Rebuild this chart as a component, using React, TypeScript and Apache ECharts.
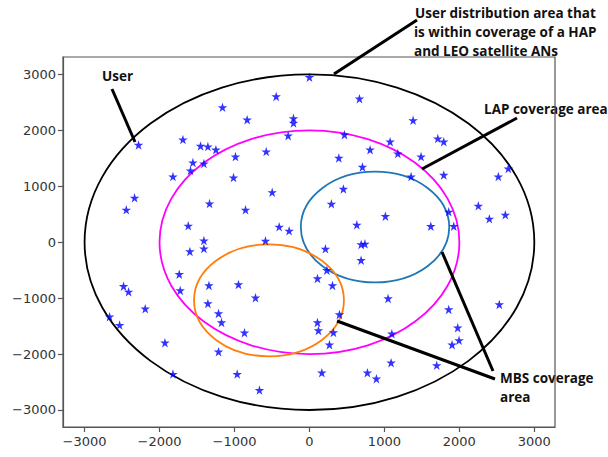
import React, { useEffect, useRef } from 'react';
import * as echarts from 'echarts';

// User positions (m)
const userX = [
  0, -444, -1160, -831, -213, -213, -284, -1688, -2280, -1453, -1355, -1248, -577, -987, -1555, -1408,
  -1587, -1821, -1013, -497, -2333, -2444, -1333, -853, -1617, -404, -271, -1408, -587, -1595, -1408,
  -1737, -2480, -2413, -1724, -1341, -947, -720, -1355, -2191, -1213, -1173, -2667, -2533, -867, -1928,
  -1213, -1821, -964, -667, 213, 690, 740, 689, 232, 107, 307, 1049, 1858, 2533, 400, 107, 120, 320,
  1099, 1978, 1996, 1903, 267, 1089, 1698, 165, 773, 893, 667, 1383, 467, 1076, 1712, 1792, 809, 1179,
  1489, 392, 707, 1356, 1792, 2653, 2520, 453, 293, 2253, 2613, 2400, 1858, 1013, 632, 1619, 1925,
];
const userY = [
  2950, 2607, 2411, 2191, 2214, 2132, 1905, 1834, 1739, 1721, 1709, 1655, 1620, 1530, 1423, 1405,
  1280, 1173, 1155, 893, 793, 579, 691, 579, 293, 275, 204, 30, 25, -166, -113,
  -571, -786, -886, -863, -773, -755, -993, -1095, -1189, -1273, -1434, -1332, -1482, -1618, -1796,
  -1957, -2357, -2357, -2643, -118, -40, -30, -321, -500, -648, -773, -1005, -1202, -1113, -1291, -1434, -1577, -1613,
  -1636, -1529, -1755, -1833, -1833, -2154, -2202, -2333, -2333, -2440, 2566, 2179, 1923, 1798, 1852, 1798, 1655, 1584,
  1530, 1507, 1346, 1173, 1203, 1316, 1173, 953, 686, 650, 489, 418, 543, 464, 311, 286, 286,
];

// Coverage areas: centre x, centre y, radius
const areaName = ['HAP/LEO', 'LAP-outer', 'LAP', 'MBS'];
const areaCX = [0, 0, 875, -540];
const areaCY = [0, 0, 270, -1040];
const areaR = [3000, 2000, 990, 1000];
const areaColor = ['#000000', '#ff00ff', '#1f77b4', '#ff7f0e'];

const tickValues = [-3000, -2000, -1000, 0, 1000, 2000, 3000];

const STAR =
  'path://M0,-10L2.25,-3.09L9.51,-3.09L3.63,1.18L5.88,8.09L0,3.82L-5.88,8.09L-3.63,1.18L-9.51,-3.09L-2.25,-3.09Z';

const fmt = (v: number) => String(v).replace('-', '\u2212');

export default function App() {
  const ref = useRef<HTMLDivElement>(null);
  useEffect(() => {
    if (!ref.current) return;
    const chart = echarts.init(ref.current, null, { renderer: 'svg' });
    const annFont = { fontFamily: 'Open Sans', fontWeight: 'bold' as const, fontSize: 13.5, fill: '#111' };
    const txt = (x: number, y: number, text: string) => ({
      type: 'text',
      x,
      y,
      z: -1,
      style: { ...annFont, text, textVerticalAlign: 'middle', verticalAlign: 'middle' },
    });
    const ln = (x1: number, y1: number, x2: number, y2: number) => ({
      type: 'line',
      z: 100,
      shape: { x1, y1, x2, y2 },
      style: { stroke: '#000', lineWidth: 3 },
    });
    chart.setOption({
      animation: false,
      backgroundColor: '#fff',
      grid: {
        left: 63,
        top: 57,
        right: 53,
        bottom: 30,
        show: true,
        borderColor: '#555',
        borderWidth: 1.2,
        backgroundColor: 'transparent',
      },
      xAxis: {
        type: 'value',
        min: -3288,
        max: 3276,
        splitLine: { show: false },
        axisLine: { show: true, onZero: false, lineStyle: { color: '#555', width: 1.2 } },
        axisTick: { show: true, customValues: tickValues, length: 5, lineStyle: { color: '#555', width: 1.2 } },
        axisLabel: {
          customValues: tickValues,
          formatter: fmt,
          fontFamily: 'DejaVu Sans',
          fontSize: 13,
          color: '#333',
          margin: 8,
        },
      },
      yAxis: {
        type: 'value',
        min: -3304,
        max: 3311,
        splitLine: { show: false },
        axisLine: { show: true, onZero: false, lineStyle: { color: '#555', width: 1.2 } },
        axisTick: { show: true, customValues: tickValues, length: 5, lineStyle: { color: '#555', width: 1.2 } },
        axisLabel: {
          customValues: tickValues,
          formatter: fmt,
          fontFamily: 'DejaVu Sans',
          fontSize: 13,
          color: '#333',
          margin: 7,
        },
      },
      series: [
        {
          type: 'custom',
          name: 'areas',
          data: areaName.map((n, i) => ({ name: n, value: [areaCX[i], areaCY[i], areaR[i], i] })),
          renderItem: (params: any, api: any) => {
            const c = api.coord([api.value(0), api.value(1)]);
            const s = api.size([api.value(2), api.value(2)]);
            return {
              type: 'ellipse',
              shape: { cx: c[0], cy: c[1], rx: s[0], ry: s[1] },
              style: { fill: 'none', stroke: areaColor[api.value(3)], lineWidth: 1.8 },
            };
          },
          z: 2,
        },
        {
          type: 'scatter',
          name: 'User',
          data: userX.map((x, i) => [x, userY[i]]),
          symbol: STAR,
          symbolSize: 9.5,
          itemStyle: { color: '#0000ff' },
          z: 3,
        },
      ],
      graphic: [
        txt(102, 76, 'User'),
        ln(112, 89, 135, 142),
        txt(415, 13, 'User distribution area that'),
        txt(414, 32, 'is within coverage of a HAP'),
        txt(414, 51, 'and LEO satellite ANs'),
        ln(417, 20, 334, 74),
        txt(484, 109, 'LAP coverage area'),
        ln(517, 118, 422, 169),
        txt(500, 378, 'MBS coverage'),
        txt(500, 397, 'area'),
        ln(495, 379, 337, 321),
        ln(493, 371, 442, 252),
      ],
    });
    return () => chart.dispose();
  }, []);
  return <div ref={ref} style={{ position: 'fixed', left: 0, top: 0, width: 608, height: 457 }} />;
}
